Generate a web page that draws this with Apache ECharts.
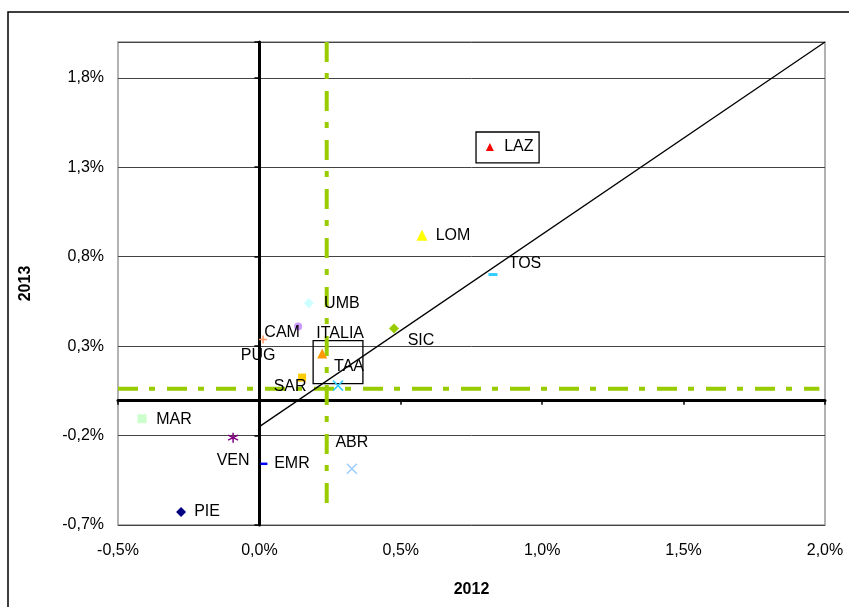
<!DOCTYPE html>
<html>
<head>
<meta charset="utf-8">
<script src="https://cdn.jsdelivr.net/npm/echarts@6/dist/echarts.min.js"></script>
<style>html,body{margin:0;padding:0;background:#fff;}#chart{width:849px;height:607px;}</style>
</head>
<body>
<div id="chart"></div>
<script>
// ---- data (values in %) ----
const regions   = ['PIE','VEN','EMR','ABR','MAR','SAR','TAA','ITALIA','PUG','CAM','UMB','SIC','TOS','LOM','LAZ'];
const values2012 = [-0.277,-0.093,0.016,0.327,-0.415,0.151,0.278,0.222,0.013,0.137,0.175,0.476,0.826,0.575,0.815];
const values2013 = [-0.627,-0.212,-0.358,-0.386,-0.106,0.124,0.079,0.258,0.337,0.410,0.539,0.399,0.700,0.920,1.413];
const avg2012 = 0.238;          // vertical reference line
const avg2013 = 0.062;          // horizontal reference line
const trendX = [0.0, 2.0];
const trendY = [-0.15, 2.0];
const xTicks = [-0.5, 0.0, 0.5, 1.0, 1.5, 2.0];
const yTicks = [-0.7, -0.2, 0.3, 0.8, 1.3, 1.8];
const boxLAZ    = [[0.766, 1.324], [0.989, 1.497]];
const boxITALIA = [[0.190, 0.090], [0.366, 0.331]];

// ---- styles ----
const FONT = 'Liberation Sans, Arial, sans-serif';
const styles = {
  PIE:   {symbol:'diamond', size:10, color:'#000080', off:[26,0]},
  VEN:   {symbol:'path://M0,-5L0,5M-4.3,-2.5L4.3,2.5M-4.3,2.5L4.3,-2.5', size:10, color:'#800080', stroke:true, off:[0,23]},
  EMR:   {symbol:'rect', size:[7,2.5], color:'#0000FF', off:[28,0]},
  ABR:   {symbol:'path://M-4,-4L4,4M-4,4L4,-4', size:10, color:'#99CCFF', stroke:true, off:[0,-26]},
  MAR:   {symbol:'rect', size:9, color:'#CCFFCC', off:[32,1]},
  SAR:   {symbol:'rect', size:8, color:'#FFCC00', off:[-12,9]},
  TAA:   {symbol:'path://M-4,-4L4,4M-4,4L4,-4', size:10, color:'#33CCFF', stroke:true, off:[11,-19]},
  ITALIA:{symbol:'triangle', size:10, color:'#FF9900', off:[18,-20]},
  PUG:   {symbol:'path://M0,-4L0,4M-4,0L4,0', size:8, color:'#FF9966', stroke:true, off:[-5,16]},
  CAM:   {symbol:'circle', size:8, color:'#CC99FF', off:[-16,6]},
  UMB:   {symbol:'diamond', size:10, color:'#CCFFFF', off:[33,0]},
  SIC:   {symbol:'diamond', size:10, color:'#99CC00', off:[27,12]},
  TOS:   {symbol:'rect', size:[9,3], color:'#33CCFF', off:[32,-11]},
  LOM:   {symbol:'triangle', size:11, color:'#FFFF00', off:[31,0]},
  LAZ:   {symbol:'triangle', size:8, color:'#FF0000', off:[29,0]}
};

const fmt = v => (Math.round(v * 10) / 10).toFixed(1).replace('.', ',') + '%';
const xMin = xTicks[0], xMax = xTicks[xTicks.length - 1];
const yMin = yTicks[0], yMax = 2.0;

const series = regions.map((r, i) => {
  const s = styles[r];
  return {
    type: 'scatter', name: r, z: 5,
    symbol: s.symbol, symbolSize: s.size,
    itemStyle: s.stroke ? {color: 'rgba(0,0,0,0)', borderColor: s.color, borderWidth: 1.5, opacity: 1}
                        : {color: s.color, opacity: 1},
    label: {show: true, formatter: r, position: 'inside', offset: s.off,
            fontSize: 16, fontFamily: FONT, color: '#000'},
    data: [[values2012[i], values2013[i]]]
  };
});

const dashDot = [20, 11, 6, 12];
series.push({
  type: 'line', name: 'avg2012', z: 3, symbol: 'none', silent: true,
  lineStyle: {color: '#99CC00', width: 4, type: dashDot},
  data: [[avg2012, yMax], [avg2012, -0.63]]
});
series.push({
  type: 'line', name: 'avg2013', z: 3, symbol: 'none', silent: true,
  lineStyle: {color: '#99CC00', width: 4, type: dashDot},
  data: [[xMin, avg2013], [1.98, avg2013]]
});
series.push({
  type: 'line', name: 'trend', z: 4, symbol: 'none', silent: true,
  lineStyle: {color: '#000', width: 1.3},
  data: trendX.map((x, i) => [x, trendY[i]]),
  markArea: {
    silent: true,
    itemStyle: {color: 'rgba(0,0,0,0)', borderColor: '#000', borderWidth: 1.3},
    data: [
      [{coord: boxLAZ[0]}, {coord: boxLAZ[1]}],
      [{coord: boxITALIA[0]}, {coord: boxITALIA[1]}]
    ]
  }
});

const chart = echarts.init(document.getElementById('chart'));
chart.setOption({
  animation: false,
  backgroundColor: '#fff',
  graphic: [{type: 'rect', silent: true, shape: {x: 8, y: 12, width: 1000, height: 1000},
             style: {fill: 'none', stroke: '#000', lineWidth: 1.5}}],
  grid: {left: 118, right: 24, top: 42, bottom: 82, show: true, borderColor: '#999', borderWidth: 1.5},
  xAxis: [
    {type: 'value', min: xMin, max: xMax, interval: 0.5, position: 'bottom',
     name: '2012', nameLocation: 'middle', nameGap: 57,
     nameTextStyle: {fontSize: 16, fontWeight: 'bold', fontFamily: FONT, color: '#000'},
     axisLine: {onZero: false, show: false}, axisTick: {show: false},
     axisLabel: {formatter: fmt, fontSize: 16, fontFamily: FONT, color: '#000', margin: 18},
     splitLine: {show: false}},
    {type: 'value', min: xMin, max: xMax, interval: 0.5, position: 'top',
     axisLine: {onZero: true, lineStyle: {color: '#000', width: 3}},
     axisTick: {show: true, inside: true, length: 5, lineStyle: {color: '#000', width: 1.5}},
     axisLabel: {show: false}, splitLine: {show: false}}
  ],
  yAxis: [
    {type: 'value', min: yMin, max: yMax, interval: 0.5, position: 'left',
     name: '2013', nameLocation: 'middle', nameGap: 84, nameRotate: 90,
     nameTextStyle: {fontSize: 16, fontWeight: 'bold', fontFamily: FONT, color: '#000'},
     axisLine: {onZero: false, show: false}, axisTick: {show: false},
     axisLabel: {formatter: fmt, fontSize: 16, fontFamily: FONT, color: '#000', margin: 14,
                 showMaxLabel: false},
     splitLine: {show: true, lineStyle: {color: '#444', width: 1}}},
    {type: 'value', min: yMin, max: yMax, interval: 0.5, position: 'right',
     axisLine: {onZero: true, lineStyle: {color: '#000', width: 3}},
     axisTick: {show: true, inside: true, length: 5, lineStyle: {color: '#000', width: 1.5}},
     axisLabel: {show: false}, splitLine: {show: false}}
  ],
  series: series
});
</script>
</body>
</html>
